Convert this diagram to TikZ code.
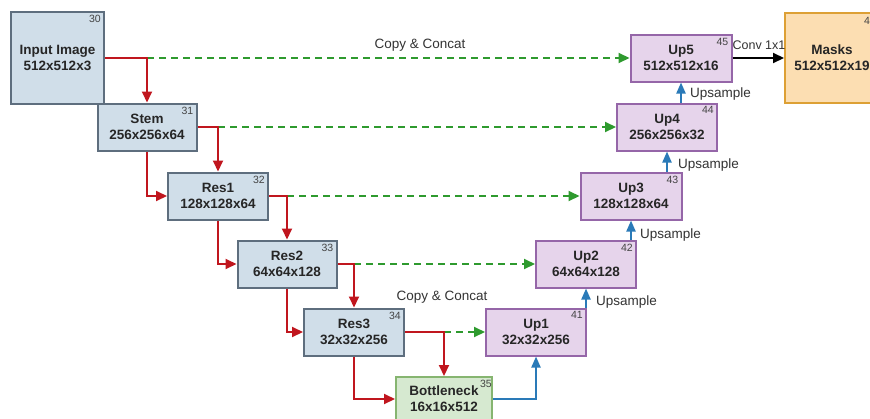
\documentclass[tikz,border=0pt]{standalone}
\usepackage{fontspec}
\setmainfont{Liberation Sans}
\usetikzlibrary{arrows.meta}
\definecolor{encfill}{HTML}{D0DEE9}
\definecolor{encdraw}{HTML}{5E6E7E}
\definecolor{decfill}{HTML}{E6D4EB}
\definecolor{decdraw}{HTML}{9566A8}
\definecolor{botfill}{HTML}{D6E9D0}
\definecolor{botdraw}{HTML}{86B570}
\definecolor{outfill}{HTML}{FCDEB2}
\definecolor{outdraw}{HTML}{DDA035}
\definecolor{redc}{HTML}{C0161E}
\definecolor{greenc}{HTML}{2E9A2E}
\definecolor{bluec}{HTML}{2A7AB8}
\definecolor{numc}{HTML}{444444}
\begin{document}
\begin{tikzpicture}[x=1pt,y=-1pt,
  box/.style={draw, line width=2pt, align=center, inner sep=0pt,
    font=\bfseries\fontsize{13.5}{16}\selectfont, text=black!85},
  enc/.style={box, fill=encfill, draw=encdraw, minimum width=99pt, minimum height=47pt},
  dec/.style={box, fill=decfill, draw=decdraw, minimum width=100pt, minimum height=47pt},
  num/.style={font=\fontsize{10.5}{12}\selectfont, text=numc, inner sep=0pt, anchor=north east},
  lab/.style={font=\fontsize{13.5}{16}\selectfont, text=black!80, inner sep=0pt},
  redarr/.style={draw=redc, line width=2pt, -{Triangle[length=11pt,width=10pt]}},
  greenarr/.style={draw=greenc, line width=2pt, dash pattern=on 7pt off 5pt, -{Triangle[length=11pt,width=10pt]}},
  bluearr/.style={draw=bluec, line width=2pt, -{Triangle[length=11pt,width=9pt]}},
  blackarr/.style={draw=black, line width=2pt, -{Triangle[length=11pt,width=10pt]}}
]
\path[use as bounding box, clip] (0,0) rectangle (870,418);
\fill[white] (0,0) rectangle (870,418);

% encoder boxes
\node[enc, minimum width=93pt, minimum height=92pt] (in) at (57.5,58) {Input Image\\512x512x3};
\node[enc] (stem) at (147,127) {Stem\\256x256x64};
\node[enc, minimum width=100pt] (res1) at (218,196) {Res1\\128x128x64};
\node[enc] (res2) at (287,264) {Res2\\64x64x128};
\node[enc, minimum width=100pt] (res3) at (354,332) {Res3\\32x32x256};
\node[box, fill=botfill, draw=botdraw, minimum width=96pt, minimum height=44pt] (bott) at (444,399) {Bottleneck\\16x16x512};
% decoder boxes
\node[dec] (up1) at (536,332) {Up1\\32x32x256};
\node[dec] (up2) at (586,264) {Up2\\64x64x128};
\node[dec, minimum width=101pt] (up3) at (631,196) {Up3\\128x128x64};
\node[dec] (up4) at (667,127) {Up4\\256x256x32};
\node[dec, minimum width=101pt] (up5) at (681,58) {Up5\\512x512x16};
\node[box, fill=outfill, draw=outdraw, minimum width=94pt, minimum height=90pt] (masks) at (832,58) {Masks\\512x512x19};

% numbers
\node[num] (n30) at ([xshift=-4pt,yshift=-4pt]in.north east) {30};
\node[num] (n31) at ([xshift=-4pt,yshift=-4pt]stem.north east) {31};
\node[num] (n32) at ([xshift=-4pt,yshift=-4pt]res1.north east) {32};
\node[num] (n33) at ([xshift=-4pt,yshift=-4pt]res2.north east) {33};
\node[num] (n34) at ([xshift=-4pt,yshift=-4pt]res3.north east) {34};
\node[num] (n35) at ([xshift=-1pt,yshift=-4pt]bott.north east) {35};
\node[num] (n41) at ([xshift=-4pt,yshift=-4pt]up1.north east) {41};
\node[num] (n42) at ([xshift=-4pt,yshift=-4pt]up2.north east) {42};
\node[num] (n43) at ([xshift=-4pt,yshift=-4pt]up3.north east) {43};
\node[num] (n44) at ([xshift=-4pt,yshift=-4pt]up4.north east) {44};
\node[num] (n45) at ([xshift=-4pt,yshift=-5pt]up5.north east) {45};
\node[num] (n46) at ([xshift=-4pt,yshift=-5pt]masks.north east) {46};

% corner coordinates
\coordinate (c0) at (stem.north |- in.east);
\coordinate (c1) at (res1.north |- stem.east);
\coordinate (c2) at (res2.north |- res1.east);
\coordinate (c3) at (res3.north |- res2.east);
\coordinate (c4) at (bott.north |- res3.east);

% skip connections (green dashed)
\draw[greenarr] (c0) -- (c0 -| up5.west);
\draw[greenarr] (c1) -- (c1 -| up4.west);
\draw[greenarr] (c2) -- (c2 -| up3.west);
\draw[greenarr] (c3) -- (c3 -| up2.west);
\draw[greenarr] (c4) -- (c4 -| up1.west);

% encoder path (red)
\draw[redarr] (in.east) -| (stem.north);
\draw[redarr] (stem.east) -| (res1.north);
\draw[redarr] (stem.south) |- (res1.west);
\draw[redarr] (res1.east) -| (res2.north);
\draw[redarr] (res1.south) |- (res2.west);
\draw[redarr] (res2.east) -| (res3.north);
\draw[redarr] (res2.south) |- (res3.west);
\draw[redarr] (res3.east) -| (bott.north);
\draw[redarr] (res3.south) |- (bott.west);

% decoder path (blue)
\draw[bluearr] (bott.east) -| (up1.south);
\draw[bluearr] (up1.north -| up2.south) -- (up2.south);
\draw[bluearr] (up2.north -| up3.south) -- (up3.south);
\draw[bluearr] (up3.north -| up4.south) -- (up4.south);
\draw[bluearr] (up4.north -| up5.south) -- (up5.south);
\draw[blackarr] (up5.east) -- (up5.east -| masks.west);

% labels
\node[lab] (cc1) at (420,45) {Copy \& Concat};
\node[lab] (cc2) at (442,297) {Copy \& Concat};
\node[lab, font=\fontsize{12.5}{15}\selectfont] (conv) at (759,45) {Conv 1x1};
\node[lab, anchor=west] (us1) at (596,302) {Upsample};
\node[lab, anchor=west] (us2) at (640,235) {Upsample};
\node[lab, anchor=west] (us3) at (678,165) {Upsample};
\node[lab, anchor=west] (us4) at (690,94) {Upsample};
\end{tikzpicture}
\end{document}
